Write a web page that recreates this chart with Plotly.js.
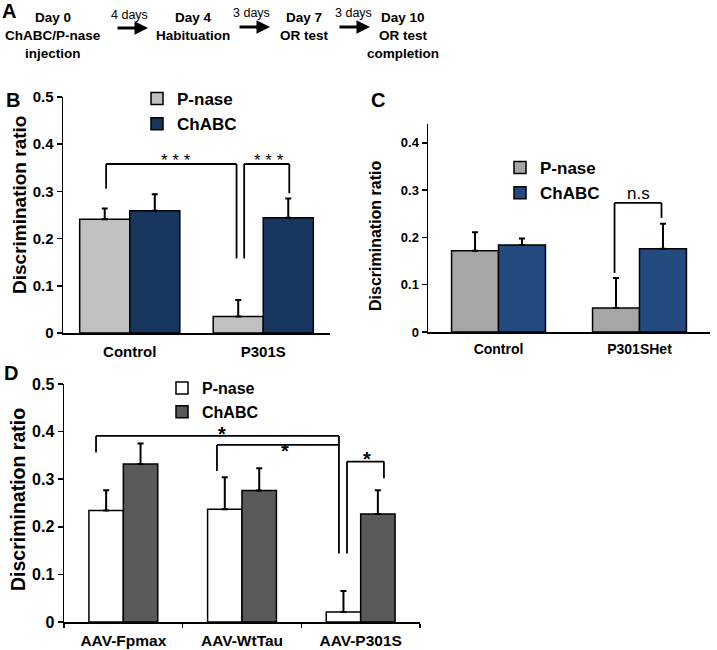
<!DOCTYPE html>
<html>
<head>
<meta charset="utf-8">
<script src="https://cdn.plot.ly/plotly-3.0.1.min.js"></script>
<style>html,body{margin:0;padding:0;background:#fff;}#chart{width:717px;height:650px;}</style>
</head>
<body>
<div id="chart"></div>
<script>
// ---------- data ----------
const seriesNames = ['P-nase', 'ChABC'];

const groupsB = ['Control', 'P301S'];
const pnaseB = [0.241, 0.035];
const pnaseErrB = [0.023, 0.035];
const chabcB = [0.259, 0.244];
const chabcErrB = [0.035, 0.041];

const groupsC = ['Control', 'P301SHet'];
const pnaseC = [0.172, 0.051];
const pnaseErrC = [0.039, 0.063];
const chabcC = [0.184, 0.176];
const chabcErrC = [0.014, 0.053];

const groupsD = ['AAV-Fpmax', 'AAV-WtTau', 'AAV-P301S'];
const pnaseD = [0.234, 0.237, 0.021];
const pnaseErrD = [0.043, 0.067, 0.044];
const chabcD = [0.332, 0.276, 0.227];
const chabcErrD = [0.043, 0.047, 0.050];

const yTicks5 = [0, 0.1, 0.2, 0.3, 0.4, 0.5];
const yTickText5 = ['0', '0.1', '0.2', '0.3', '0.4', '0.5'];
const yTicks4 = [0, 0.1, 0.2, 0.3, 0.4];
const yTickText4 = ['0', '0.1', '0.2', '0.3', '0.4'];

const timeline = [
  {lines: ['Day 0', 'ChABC/P-nase', 'injection']},
  {lines: ['Day 4', 'Habituation']},
  {lines: ['Day 7', 'OR test']},
  {lines: ['Day 10', 'OR test', 'completion']}
];
const intervals = ['4 days', '3 days', '3 days'];

// ---------- helpers ----------
const W = 717, H = 650;
const X = p => p / W;
const Y = p => 1 - p / H;
const FONT = 'Liberation Sans, Arial, Helvetica, sans-serif';

function bar(name, x, y, err, color, xa, ya, w, off, legend) {
  return {
    type: 'bar', name: name, x: x, y: y, xaxis: xa, yaxis: ya,
    width: w, offset: off, legend: legend,
    marker: {color: color, line: {color: '#000', width: 1.5}},
    error_y: {type: 'data', symmetric: false, array: err, arrayminus: err.map(() => 0),
              color: '#000', thickness: 2, width: 3},
    hoverinfo: 'skip'
  };
}

const wB = 0.375, wC = 0.333, wD = 0.29;
const traces = [
  bar(seriesNames[0], groupsB, pnaseB, pnaseErrB, '#c0c0c0', 'x', 'y', wB, -wB, 'legend'),
  bar(seriesNames[1], groupsB, chabcB, chabcErrB, '#17365d', 'x', 'y', wB, 0, 'legend'),
  bar(seriesNames[0], groupsC, pnaseC, pnaseErrC, '#a6a6a6', 'x2', 'y2', wC, -wC, 'legend2'),
  bar(seriesNames[1], groupsC, chabcC, chabcErrC, '#234a7e', 'x2', 'y2', wC, 0, 'legend2'),
  bar(seriesNames[0], groupsD, pnaseD, pnaseErrD, '#ffffff', 'x3', 'y3', wD, -wD, 'legend3'),
  bar(seriesNames[1], groupsD, chabcD, chabcErrD, '#595959', 'x3', 'y3', wD, 0, 'legend3')
];

// brackets: list of [x, y] points joined by lines
const shapes = [];
function bracket(xa, ya, pts) {
  for (let i = 0; i < pts.length - 1; i++) {
    shapes.push({type: 'line', xref: xa, yref: ya,
      x0: pts[i][0], y0: pts[i][1], x1: pts[i + 1][0], y1: pts[i + 1][1],
      line: {color: '#000', width: 1.8}});
  }
}
bracket('x', 'y', [[-0.177, 0.306], [-0.177, 0.358], [0.80, 0.358], [0.80, 0.158]]);
bracket('x', 'y', [[0.857, 0.158], [0.857, 0.358], [1.195, 0.358], [1.195, 0.296]]);
bracket('x2', 'y2', [[0.823, 0.125], [0.823, 0.273], [1.156, 0.273], [1.156, 0.241]]);
bracket('x3', 'y3', [[-0.23, 0.356], [-0.23, 0.391], [1.817, 0.391], [1.817, 0.144]]);
bracket('x3', 'y3', [[0.789, 0.317], [0.789, 0.372], [1.817, 0.372]]);
bracket('x3', 'y3', [[1.885, 0.144], [1.885, 0.337], [2.196, 0.337], [2.196, 0.302]]);

const annotations = [];
function txt(text, x, y, size, bold) {
  annotations.push({text: text, x: X(x), y: Y(y), xref: 'paper', yref: 'paper',
    xanchor: 'center', yanchor: 'middle', showarrow: false,
    font: {family: FONT, size: size, color: '#000', weight: bold ? 'bold' : 'normal'}});
}
// significance labels
function sig(text, xa, ya, x, y, size, bold) {
  annotations.push({text: text, xref: xa, yref: ya, x: x, y: y, showarrow: false,
    xanchor: 'center', yanchor: 'middle',
    font: {family: FONT, size: size, color: '#000', weight: bold ? 'bold' : 'normal'}});
}
sig('* * *', 'x', 'y', 0.348, 0.365, 17, false);
sig('* * *', 'x', 'y', 1.04, 0.365, 17, false);
sig('n.s', 'x2', 'y2', 0.995, 0.294, 17, false);
sig('*', 'x3', 'y3', 0.83, 0.395, 20, true);
sig('*', 'x3', 'y3', 1.36, 0.36, 20, true);
sig('*', 'x3', 'y3', 2.05, 0.342, 20, true);

// panel letters
txt('A', 9, 11, 20, true);
txt('B', 13, 100, 20, true);
txt('C', 378, 100, 20, true);
txt('D', 11, 373, 20, true);

// y-axis titles
function ytitle(xp, yp, size) {
  annotations.push({text: 'Discrimination ratio', x: X(xp), y: Y(yp), xref: 'paper', yref: 'paper',
    textangle: -90, showarrow: false, xanchor: 'center', yanchor: 'middle',
    font: {family: FONT, size: size, color: '#000', weight: 'bold'}});
}
ytitle(19, 205, 19);
ytitle(375, 236, 16);
ytitle(18, 500, 19.5);

// timeline (panel A)
const stepX = [53, 193, 304, 403];
const lineY = [17, 36, 54];
timeline.forEach((s, i) => {
  s.lines.forEach((l, j) => txt(l, stepX[i], lineY[j], 13.5, true));
});
const arrowTail = [116, 238, 338], arrowHead = [148, 270, 370], arrowY = [28, 27, 27];
const intervalX = [129, 252, 353], intervalY = [15, 13, 13];
intervals.forEach((t, i) => {
  txt(t, intervalX[i], intervalY[i], 12.5, false);
  annotations.push({text: '', x: X(arrowHead[i]), y: Y(arrowY[i]), xref: 'paper', yref: 'paper',
    ax: arrowTail[i] - arrowHead[i], ay: 0, showarrow: true, arrowhead: 2, arrowsize: 0.9,
    arrowwidth: 3, arrowcolor: '#000', standoff: 0, startstandoff: 0});
});

function yax(domTop, domBot, range, tv, tt, fs) {
  return {domain: [Y(domBot), Y(domTop)], range: range, tickvals: tv, ticktext: tt,
    showline: true, linecolor: '#000', linewidth: 1.5, ticks: 'outside', ticklen: 5, tickwidth: 1.5,
    tickcolor: '#000', showgrid: false, zeroline: false, fixedrange: true,
    tickfont: {family: FONT, size: fs, color: '#000', weight: 'bold'}};
}
function xax(l, r, n, fs, anchor, ticks) {
  const a = {domain: [X(l), X(r)], type: 'category', range: [-0.5, n - 0.5], anchor: anchor,
    showline: true, linecolor: '#000', linewidth: 1.5, showgrid: false, zeroline: false,
    ticks: ticks ? 'outside' : '', ticklen: 4, tickwidth: 1.5, tickcolor: '#000', fixedrange: true,
    ticklabelstandoff: 4,
    tickfont: {family: FONT, size: fs, color: '#000', weight: 'bold'}};
  if (ticks) a.tickson = 'boundaries';
  return a;
}

function leg(xp, yp, fs) {
  return {x: X(xp), y: Y(yp), xanchor: 'left', yanchor: 'top', bgcolor: 'rgba(0,0,0,0)',
    borderwidth: 0, tracegroupgap: 0, itemclick: false, itemdoubleclick: false,
    font: {family: FONT, size: fs, color: '#000', weight: 'bold'}};
}

const layout = {
  width: W, height: H, autosize: false,
  margin: {l: 0, r: 0, t: 0, b: 0, pad: 0},
  paper_bgcolor: '#fff', plot_bgcolor: 'rgba(0,0,0,0)',
  showlegend: true,
  xaxis: xax(63, 330, 2, 15, 'y', false),
  yaxis: yax(97, 333, [0, 0.5], yTicks5, yTickText5, 15),
  xaxis2: xax(428, 710, 2, 14, 'y2', false),
  yaxis2: yax(124, 332, [0, 0.44], yTicks4, yTickText4, 13),
  xaxis3: xax(64, 420, 3, 15.5, 'y3', true),
  yaxis3: yax(384, 622, [0, 0.5], yTicks5, yTickText5, 16),
  legend: leg(137, 81, 17),
  legend2: leg(500, 150, 17),
  legend3: leg(162, 371, 16),
  shapes: shapes,
  annotations: annotations
};
layout.yaxis.anchor = 'x';
layout.yaxis2.anchor = 'x2';
layout.yaxis3.anchor = 'x3';

Plotly.newPlot('chart', traces, layout, {displayModeBar: false, staticPlot: true});
</script>
</body>
</html>
